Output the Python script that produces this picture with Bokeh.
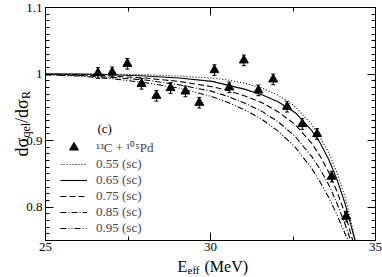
import numpy as np
from bokeh.plotting import figure
from bokeh.models import (Range1d, LinearAxis, FixedTicker, Label, Legend, LegendItem,
                          ColumnDataSource, Whisker, TeeHead)
from bokeh.embed import file_html
from bokeh.resources import INLINE

# ---------------- data ----------------
# experimental 13C + 105Pd quasi-elastic ratio
energy_exp = [26.59, 27.02, 27.48, 27.91, 28.36, 28.79, 29.24, 29.66, 30.12,
              30.57, 31.01, 31.45, 31.90, 32.32, 32.78, 33.23, 33.67, 34.11]
ratio_exp = [1.0015, 1.0026, 1.0155, 0.9854, 0.9674, 0.979, 0.974, 0.957, 1.006,
             0.980, 1.0206, 0.9755, 0.992, 0.951, 0.925, 0.910, 0.846, 0.786]
err_exp = [0.008, 0.008, 0.008, 0.008, 0.008, 0.008, 0.008, 0.008, 0.008,
           0.008, 0.008, 0.008, 0.008, 0.008, 0.008, 0.008, 0.008, 0.008]

# theoretical curves (diffuseness, sc); each ends where it meets the bottom axis
energy_055 = [25, 26.01, 27.02, 28.03, 29.04, 30.05, 30.55, 31.05, 31.56, 32.06, 32.57,
              33.07, 33.32, 33.58, 33.83, 34.08, 34.39]
curve_055 = [1.0, 1.0, 1.0, 0.999, 0.997, 0.994, 0.991, 0.986, 0.979, 0.968, 0.951,
             0.924, 0.905, 0.882, 0.852, 0.815, 0.75]
energy_065 = [25, 26.01, 27.02, 28.03, 29.04, 30.05, 30.55, 31.05, 31.56, 32.06, 32.57,
              33.07, 33.32, 33.58, 33.83, 34.08, 34.38]
curve_065 = [1.0, 1.0, 0.999, 0.997, 0.994, 0.989, 0.983, 0.977, 0.969, 0.958, 0.942,
             0.915, 0.897, 0.872, 0.842, 0.805, 0.75]
energy_075 = [25, 26.01, 27.02, 28.03, 29.04, 30.05, 30.55, 31.05, 31.56, 32.06, 32.57,
              33.07, 33.32, 33.58, 33.83, 34.08, 34.31]
curve_075 = [1.0, 0.999, 0.997, 0.994, 0.989, 0.981, 0.975, 0.967, 0.957, 0.943, 0.924,
             0.896, 0.877, 0.853, 0.824, 0.79, 0.75]
energy_085 = [25, 26.01, 27.02, 28.03, 29.04, 30.05, 30.55, 31.05, 31.56, 32.06, 32.57,
              33.07, 33.32, 33.58, 33.83, 34.08, 34.25]
curve_085 = [0.999, 0.998, 0.995, 0.991, 0.984, 0.974, 0.966, 0.956, 0.944, 0.928, 0.906,
             0.876, 0.857, 0.834, 0.806, 0.774, 0.75]
energy_095 = [25, 26.01, 27.02, 28.03, 29.04, 30.05, 30.55, 31.05, 31.56, 32.06, 32.57,
              33.07, 33.32, 33.58, 33.83, 34.08, 34.17]
curve_095 = [0.999, 0.997, 0.993, 0.987, 0.979, 0.966, 0.957, 0.946, 0.932, 0.914, 0.890,
             0.858, 0.838, 0.815, 0.789, 0.76, 0.75]

curve_labels = ["0.55 (sc)", "0.65 (sc)", "0.75 (sc)", "0.85 (sc)", "0.95 (sc)"]
curve_dashes = ["1 2", "solid", "6 3", "6 2 1 2", "6 2 1 2 1 2"]
exp_label = "\u00b9\u00b3C + \u00b9\u2070\u2075Pd"

x_ticks = [25, 30, 35]
x_minor = [27.5, 32.5]
y_ticks = [0.8, 0.9, 1.0, 1.1]
y_tick_labels = {0.8: "0.8", 0.9: "0.9", 1: "1", 1.1: "1.1"}
X0, X1, Y0, Y1 = 25, 35, 0.75, 1.1

FONT = "Liberation Serif"

# ---------------- layout (canvas pixels, canvas at page 0,0) ----------------
W, H = 382, 277
PX0, PX1, PY0, PY1 = 45, 375, 7, 240   # box of the axes
kx = (PX1 - PX0) / (X1 - X0)
ky = (PY1 - PY0) / (Y1 - Y0)


def dx(px):
    return X0 + (px - PX0) / kx


def dy(py):
    return Y1 - (py - PY0) / ky


p = figure(width=W, height=H,
           x_range=Range1d(dx(0), dx(W)), y_range=Range1d(dy(H), dy(0)),
           output_backend="svg", toolbar_location=None,
           x_axis_type=None, y_axis_type=None, min_border=0)
p.min_border_left = 0
p.min_border_right = 0
p.min_border_top = 0
p.min_border_bottom = 0
p.outline_line_color = None
p.background_fill_color = "white"
p.border_fill_color = "white"

y_minor = [round(0.75 + 0.01 * i, 2) for i in range(36)]


def make_axis(loc, bounds, ticks, minor, tick_len, minor_len, standoff=3, overrides=None):
    ax = LinearAxis(ticker=FixedTicker(ticks=ticks, minor_ticks=minor),
                    fixed_location=loc, bounds=bounds)
    ax.axis_line_color = "black"
    ax.axis_line_width = 1
    ax.major_tick_in = tick_len
    ax.major_tick_out = 0
    ax.minor_tick_in = minor_len
    ax.minor_tick_out = 0
    ax.major_tick_line_color = "black"
    ax.minor_tick_line_color = "black"
    ax.major_label_standoff = standoff
    ax.major_label_text_font = FONT
    ax.major_label_text_font_size = "13px"
    ax.major_label_text_color = "black"
    if overrides:
        ax.major_label_overrides = overrides
    return ax


p.add_layout(make_axis(Y0, (X0, X1), x_ticks, x_minor, 8, 4, standoff=2), "below")
p.add_layout(make_axis(X0, (Y0, Y1), y_ticks, y_minor, 8, 4, overrides=y_tick_labels), "left")
# mirrored, tick-only axes
p.add_layout(make_axis(Y1, (X0, X1), [], [30], 0, 8), "above")
p.add_layout(make_axis(Y1, (X0, X1), [], x_minor, 0, 4), "above")
p.add_layout(make_axis(X1, (Y0, Y1), [], [0.8, 0.9, 1.0], 0, 8), "right")
p.add_layout(make_axis(X1, (Y0, Y1), [], y_minor, 0, 4), "right")

# curves
curve_renderers = []
for xs, vals, dash in zip([energy_055, energy_065, energy_075, energy_085, energy_095],
                          [curve_055, curve_065, curve_075, curve_085, curve_095], curve_dashes):
    r = p.line(xs, vals, line_color="black", line_width=1.1, line_dash=dash)
    curve_renderers.append(r)

# experimental points
src = ColumnDataSource(dict(x=energy_exp, y=ratio_exp,
                            lower=[v - e for v, e in zip(ratio_exp, err_exp)],
                            upper=[v + e for v, e in zip(ratio_exp, err_exp)]))
wh = Whisker(source=src, base="x", upper="upper", lower="lower", line_color="black",
             line_width=1,
             upper_head=TeeHead(size=4, line_color="black", line_width=1),
             lower_head=TeeHead(size=4, line_color="black", line_width=1))
p.add_layout(wh)
pts = p.scatter("x", "y", source=src, marker="triangle", size=9, fill_color="black",
                line_color="black")

# legends (location: pixels from the bottom-left of the canvas)
LEG_X = 60
leg_a = Legend(items=[LegendItem(label=exp_label, renderers=[pts])],
               location=(LEG_X, H - 158), glyph_width=27, glyph_height=22, label_height=22,
               spacing=0, padding=0, margin=0, label_standoff=9,
               label_text_font=FONT, label_text_font_size="13px",
               background_fill_alpha=0, border_line_color=None)
leg_b = Legend(items=[LegendItem(label=l, renderers=[r]) for l, r in zip(curve_labels, curve_renderers)],
               location=(LEG_X, H - 236), glyph_width=27, glyph_height=16, label_height=16,
               spacing=0, padding=0, margin=0, label_standoff=9,
               label_text_font=FONT, label_text_font_size="13px",
               background_fill_alpha=0, border_line_color=None)
p.add_layout(leg_a)
p.add_layout(leg_b)


def add_text(txt, px, py, size, angle=0.0, baseline="alphabetic"):
    p.add_layout(Label(x=dx(px), y=dy(py), text=txt, angle=angle,
                       text_font=FONT, text_font_size=size,
                       text_align="left", text_baseline=baseline, text_color="black"))


add_text("(c)", 97, 128, "13px", baseline="middle")

# x axis title: E_eff (MeV)
add_text("E", 177, 266, "16px")
add_text("eff", 187, 269.5, "11px")
add_text("(MeV)", 204, 266, "16px")

# y axis title: dσ_qel/dσ_R (rotated, reading upwards)
add_text("d\u03c3", 21, 156, "18px", angle=np.pi / 2)
add_text("qel", 25, 137.1, "12px", angle=np.pi / 2)
add_text("/d\u03c3", 21, 122.4, "18px", angle=np.pi / 2)
add_text("R", 25, 98.5, "12px", angle=np.pi / 2)

open("out.html", "w").write(file_html(p, INLINE))
